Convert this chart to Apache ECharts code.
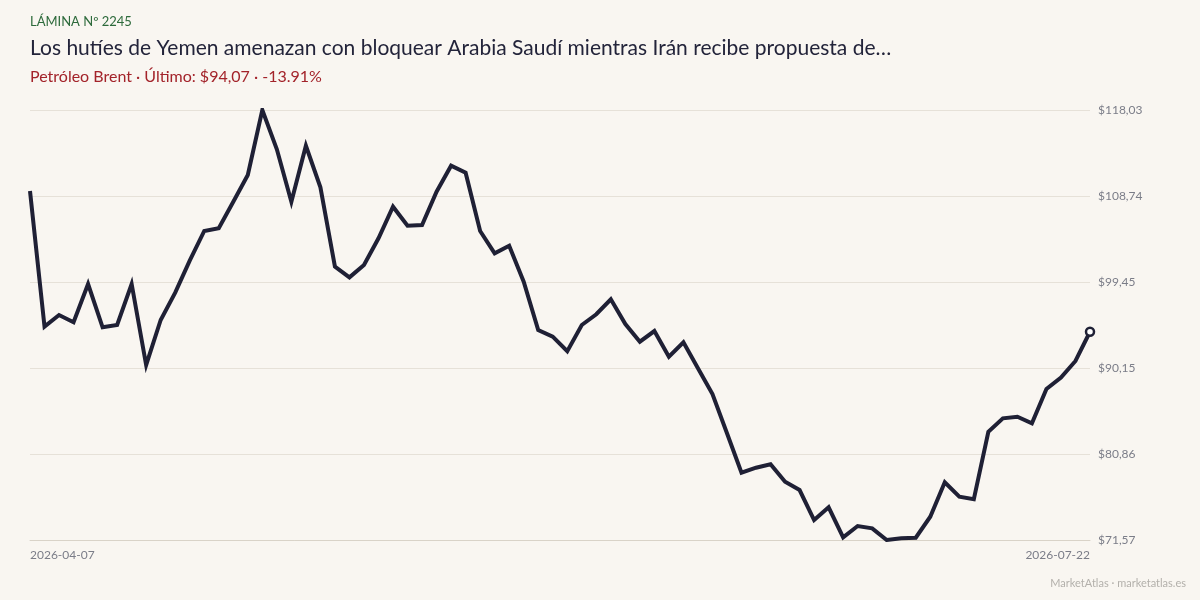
<!doctype html>
<html>
<head>
<meta charset="UTF-8">
<title>Petróleo Brent</title>
<script src="https://cdn.jsdelivr.net/npm/echarts@6/dist/echarts.min.js"></script>
<style>
  html, body { margin: 0; padding: 0; background: #f9f6f1; }
  #chart { width: 1200px; height: 600px; }
</style>
</head>
<body>
<div id="chart"></div>
<script>
// fechas (días hábiles)
var dates = [
  '2026-04-07','2026-04-08','2026-04-09','2026-04-10',
  '2026-04-13','2026-04-14','2026-04-15','2026-04-16','2026-04-17',
  '2026-04-20','2026-04-21','2026-04-22','2026-04-23','2026-04-24',
  '2026-04-27','2026-04-28','2026-04-29','2026-04-30','2026-05-01',
  '2026-05-04','2026-05-05','2026-05-06','2026-05-07','2026-05-08',
  '2026-05-11','2026-05-12','2026-05-13','2026-05-14','2026-05-15',
  '2026-05-18','2026-05-19','2026-05-20','2026-05-21','2026-05-22',
  '2026-05-26','2026-05-27','2026-05-28','2026-05-29',
  '2026-06-01','2026-06-02','2026-06-03','2026-06-04','2026-06-05',
  '2026-06-08','2026-06-09','2026-06-10','2026-06-11','2026-06-12',
  '2026-06-15','2026-06-16','2026-06-17','2026-06-18',
  '2026-06-22','2026-06-23','2026-06-24','2026-06-25','2026-06-26',
  '2026-06-29','2026-06-30','2026-07-01','2026-07-02',
  '2026-07-06','2026-07-07','2026-07-08','2026-07-09','2026-07-10',
  '2026-07-13','2026-07-14','2026-07-15','2026-07-16','2026-07-17',
  '2026-07-20','2026-07-21','2026-07-22'
];

// precio de cierre Brent (USD)
var brent = [
  109.27, 94.62, 95.88, 95.09, 99.23, 94.55, 94.80, 99.23, 90.48, 95.34,
  98.29, 101.75, 104.96, 105.25, 108.12, 111.01, 118.03, 113.78, 108.12, 114.17,
  109.68, 101.10, 99.95, 101.28, 104.17, 107.58, 105.53, 105.60, 109.20, 112.01,
  111.26, 104.96, 102.55, 103.37, 99.48, 94.26, 93.54, 91.97, 94.80, 95.96,
  97.58, 94.91, 93.00, 94.15, 91.37, 92.93, 90.12, 87.34, 83.10, 78.84,
  79.38, 79.75, 77.87, 76.97, 73.73, 75.10, 71.86, 73.08, 72.83, 71.57,
  71.75, 71.82, 74.09, 77.80, 76.25, 75.97, 83.27, 84.72, 84.89, 84.18,
  87.88, 89.11, 90.91, 94.07
];

var yMin = 71.57;
var yMax = 118.03;
var yStep = (yMax - yMin) / 5;

var chart = echarts.init(document.getElementById('chart'));

var font = 'Lato, "Noto Sans", sans-serif';

var option = {
  backgroundColor: '#f9f6f1',
  animation: false,
  textStyle: { fontFamily: font },
  title: [
    {
      text: 'LÁMINA Nº 2245',
      left: 30, top: 15, padding: 0,
      textStyle: { fontFamily: font, fontSize: 13, fontWeight: 'normal', color: '#2d6a3b' }
    },
    {
      text: 'Los hutíes de Yemen amenazan con bloquear Arabia Saudí mientras Irán recibe propuesta de…',
      left: 30, top: 38, padding: 0,
      textStyle: { fontFamily: font, fontSize: 21, fontWeight: 'normal', color: '#23243a' }
    },
    {
      text: 'Petróleo Brent · Último: $94,07 · -13.91%',
      left: 30, top: 69, padding: 0,
      textStyle: { fontFamily: font, fontSize: 16, fontWeight: 'normal', color: '#a3232a' }
    },
    {
      text: 'MarketAtlas · marketatlas.es',
      right: 14, top: 578, padding: 0,
      textStyle: { fontFamily: font, fontSize: 11, fontWeight: 'normal', color: '#b3b0ab' }
    }
  ],
  grid: { left: 30, right: 110, top: 110, bottom: 60 },
  xAxis: {
    type: 'category',
    data: dates,
    boundaryGap: false,
    axisLine: { show: true, lineStyle: { color: '#d9d3c8', width: 1 } },
    axisTick: { show: false },
    splitLine: { show: false },
    axisLabel: {
      interval: function (i) { return i === 0 || i === dates.length - 1; },
      alignMinLabel: 'left',
      alignMaxLabel: 'right',
      margin: 9,
      fontFamily: font,
      fontSize: 12,
      color: '#7b7d88'
    }
  },
  yAxis: {
    type: 'value',
    position: 'right',
    min: yMin,
    max: yMax,
    interval: yStep,
    axisLine: { show: false },
    axisTick: { show: false },
    splitLine: { lineStyle: { color: '#e6e1d8', width: 1 } },
    axisLabel: {
      margin: 8,
      fontFamily: font,
      fontSize: 12,
      color: '#7b7d88',
      formatter: function (v) { return '$' + v.toFixed(2).replace('.', ','); }
    }
  },
  series: [{
    name: 'Brent',
    type: 'line',
    data: brent.map(function (v, i) {
      if (i === brent.length - 1) {
        return {
          value: v,
          symbol: 'circle',
          symbolSize: 8,
          itemStyle: { color: '#ffffff', borderColor: '#1f2035', borderWidth: 2.5 }
        };
      }
      return v;
    }),
    showSymbol: true,
    symbol: 'none',
    lineStyle: { color: '#1f2035', width: 4, join: 'miter' },
    itemStyle: { color: '#1f2035' }
  }]
};

chart.setOption(option);
</script>
</body>
</html>
